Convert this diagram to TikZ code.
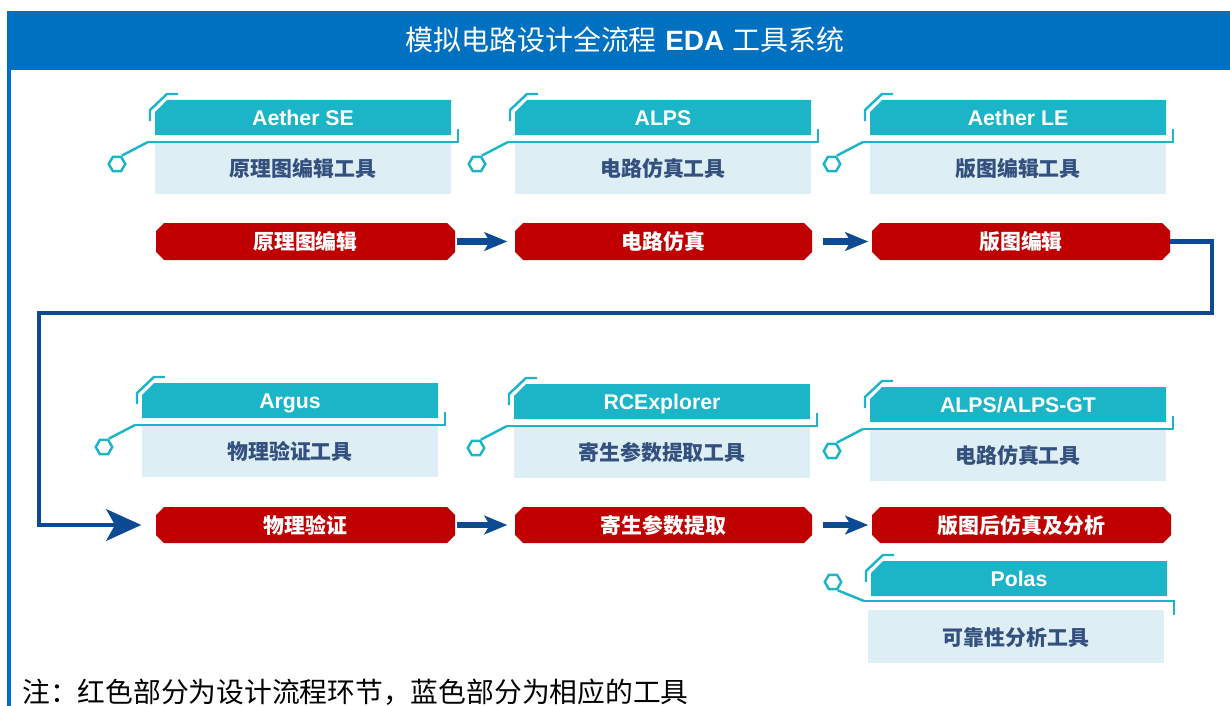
\documentclass[tikz,border=0pt]{standalone}
\usepackage{fontspec}
\newfontfamily\cjk{Noto Sans CJK SC}
\newfontfamily\arial{Liberation Sans}
\usetikzlibrary{arrows.meta,shapes.geometric}
\definecolor{titleblue}{HTML}{0070C0}
\definecolor{tealc}{HTML}{1CB4C7}
\definecolor{bodyc}{HTML}{DDEFF4}
\definecolor{bodytxt}{HTML}{34507E}
\definecolor{redc}{HTML}{C00000}
\definecolor{arrowc}{HTML}{0C4A94}
\tikzset{
  hdrtext/.style={text=white, font=\arial\bfseries\fontsize{12.1}{14}\selectfont, inner sep=0pt, text height=8.6pt, text depth=0pt},
  bodytext/.style={text=bodytxt, font=\cjk\bfseries\fontsize{11.9}{14}\selectfont, inner sep=0pt, text height=10.5pt, text depth=1.4pt},
  flowtext/.style={text=white, font=\cjk\bfseries\fontsize{11.9}{14}\selectfont, inner sep=0pt, text height=10.5pt, text depth=1.4pt},
  tealline/.style={draw=tealc, line width=1.4pt},
  hexnode/.style={regular polygon, regular polygon sides=6, draw=tealc, fill=white, line width=1.4pt, minimum size=0.33cm, inner sep=0pt},
  smallarrow/.style={draw=arrowc, line width=3.6pt, -{Stealth[length=13pt,width=10.5pt,inset=3pt]}},
  bigline/.style={draw=arrowc, line width=2.3pt, line join=miter, -{Stealth[length=20pt,width=18pt,inset=5pt]}},
}
% #1 name, #2 x, #3 y (header top), #4 title, #5 subtitle
\newcommand\toolcard[5]{%
  \fill[tealc] (#2,{#3+12}) -- ({#2+12},#3) -- ({#2+296},#3) -- ({#2+296},{#3+35}) -- (#2,{#3+35}) -- cycle;
  \node[hdrtext] (#1h) at ({#2+148},{#3+17.5}) {#4};
  \fill[bodyc] (#2,{#3+43}) rectangle ({#2+296},{#3+94});
  \node[bodytext] (#1b) at ({#2+148},{#3+68.5}) {#5};
  \draw[tealline] ({#2-5},{#3+21}) -- ({#2-5},{#3+10}) -- ({#2+12},{#3-6}) -- ({#2+23},{#3-6});
  \coordinate (#1j) at ({#2-7},{#3+42});
  \draw[tealline] (#1j) -- ({#2+303},{#3+42}) -- ({#2+303},{#3+29});
  \node[hexnode] (#1x) at ({#2-38},{#3+64}) {};
  \draw[tealline] (#1j) -- (#1x.60);
}
\newcommand\toolcardflip[5]{%
  \fill[tealc] (#2,{#3+12}) -- ({#2+12},#3) -- ({#2+296},#3) -- ({#2+296},{#3+35}) -- (#2,{#3+35}) -- cycle;
  \node[hdrtext] (#1h) at ({#2+148},{#3+17.5}) {#4};
  \fill[bodyc] ({#2-3},{#3+49}) rectangle ({#2+293},{#3+102});
  \node[bodytext] (#1b) at ({#2+145},{#3+76}) {#5};
  \draw[tealline] ({#2-5},{#3+21}) -- ({#2-5},{#3+10}) -- ({#2+12},{#3-6}) -- ({#2+23},{#3-6});
  \coordinate (#1j) at ({#2-7},{#3+40});
  \draw[tealline] (#1j) -- ({#2+303},{#3+40}) -- ({#2+303},{#3+54});
  \node[hexnode] (#1x) at ({#2-38},{#3+21}) {};
  \draw[tealline] (#1j) -- (#1x.-60);
}
% #1 name, #2 x1, #3 y1, #4 x2, #5 y2, #6 text
\newcommand\flowbox[6]{%
  \fill[redc] ({#2+8},#3) -- ({#4-8},#3) -- (#4,{#3+8}) -- (#4,{#5-8}) -- ({#4-8},#5) -- ({#2+8},#5) -- (#2,{#5-8}) -- (#2,{#3+8}) -- cycle;
  \node[flowtext, minimum width={(#4-#2)*0.5669pt}, minimum height={(#5-#3)*0.5669pt}] (#1) at ({(#2+#4)/2},{(#3+#5)/2}) {#6};
}
\begin{document}
\begin{tikzpicture}[x=0.02cm, y=-0.02cm]
\useasboundingbox (0,0) rectangle (1230,706);
% frame and title
\fill[titleblue] (7,11) rectangle (1230,70);
\fill[titleblue] (7,70) rectangle (11,706);
\node[text=white, inner sep=0pt, text height=14pt, text depth=1.9pt, font=\fontsize{15.9}{18}\selectfont] (title) at (625,40)
  {{\cjk 模拟电路设计全流程} {\arial\bfseries EDA} {\cjk 工具系统}};
% tool cards
\toolcard{se}{155}{100}{Aether SE}{原理图编辑工具}
\toolcard{alps}{515}{100}{ALPS}{电路仿真工具}
\toolcard{le}{870}{100}{Aether LE}{版图编辑工具}
\toolcard{argus}{142}{383}{Argus}{物理验证工具}
\toolcard{rce}{514}{384}{RCExplorer}{寄生参数提取工具}
\toolcard{gt}{870}{387}{ALPS/ALPS-GT}{电路仿真工具}
\toolcardflip{polas}{871}{561}{Polas}{可靠性分析工具}
% flow boxes
\flowbox{f1}{156}{223}{455}{260}{原理图编辑}
\flowbox{f2}{515}{223}{812}{260}{电路仿真}
\flowbox{f3}{872}{223}{1170}{260}{版图编辑}
\flowbox{f4}{156}{507}{455}{543}{物理验证}
\flowbox{f5}{515}{507}{812}{543}{寄生参数提取}
\flowbox{f6}{872}{507}{1171}{543}{版图后仿真及分析}
% arrows
\draw[smallarrow, shorten <=1.1pt, shorten >=4.5pt] (f1.east) -- (f2.west);
\draw[smallarrow, shorten <=6.2pt, shorten >=2.3pt] (f2.east) -- (f3.west);
\draw[smallarrow, shorten <=1.1pt, shorten >=4.5pt] (f4.east) -- (f5.west);
\draw[smallarrow, shorten <=6.2pt, shorten >=2.3pt] (f5.east) -- (f6.west);
\coordinate (b1) at (1212,313);
\coordinate (b2) at (39,313);
\draw[bigline, shorten >=8.5pt] (f3.east) -| (b1) -- (b2) |- (f4.west);
% footnote
\node[anchor=west, inner sep=0pt, font=\cjk\fontsize{15.8}{18}\selectfont, text height=13.9pt, text depth=1.9pt] (note) at (22,692)
  {注：红色部分为设计流程环节，蓝色部分为相应的工具};
\end{tikzpicture}
\end{document}
